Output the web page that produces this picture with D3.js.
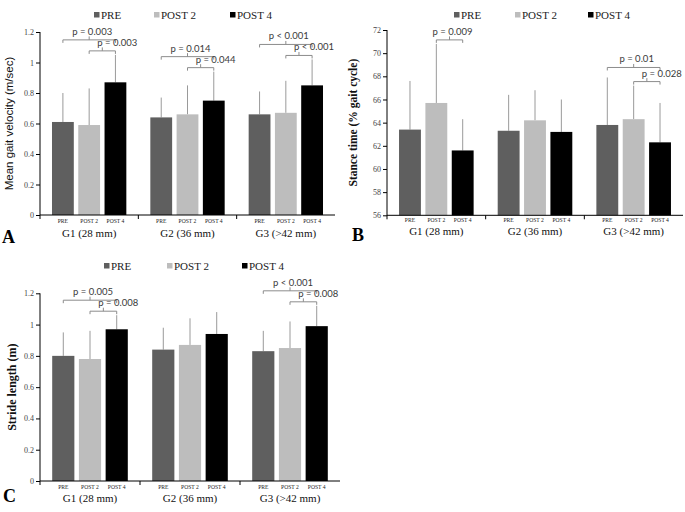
<!DOCTYPE html>
<html>
<head>
<meta charset="utf-8">
<script src="https://cdn.jsdelivr.net/npm/d3@7"></script>
<style>
  html, body { margin: 0; padding: 0; background: #fff; }
  svg { display: block; }
</style>
</head>
<body>
<svg id="chart" width="685" height="512"></svg>
<script>
// ---------- DATA ----------
const groups = ["G1 (28 mm)", "G2 (36 mm)", "G3 (>42 mm)"];
const seriesNames = ["PRE", "POST 2", "POST 4"];

// Panel A: mean gait velocity (m/sec) — rows = groups, cols = series
const velocityMean = [[0.61, 0.59, 0.87], [0.64, 0.66, 0.75], [0.66, 0.67, 0.85]];
const velocitySD   = [[0.19, 0.24, 0.18], [0.13, 0.19, 0.19], [0.15, 0.21, 0.17]];
const velocityTicks = [0, 0.2, 0.4, 0.6, 0.8, 1, 1.2];
const velocityP = [
  { group: 0, from: 0, to: 2, label: "p = 0.003" },
  { group: 0, from: 1, to: 2, label: "p = 0.003" },
  { group: 1, from: 0, to: 2, label: "p = 0.014" },
  { group: 1, from: 1, to: 2, label: "p = 0.044" },
  { group: 2, from: 0, to: 2, label: "p < 0.001" },
  { group: 2, from: 1, to: 2, label: "p < 0.001" }
];

// Panel B: stance time (% gait cycle)
const stanceMean = [[63.4, 65.7, 61.6], [63.3, 64.2, 63.2], [63.8, 64.3, 62.3]];
const stanceSD   = [[4.2, 5.1, 2.7], [3.1, 2.6, 2.8], [4.1, 2.9, 3.4]];
const stanceTicks = [56, 58, 60, 62, 64, 66, 68, 70, 72];
const stanceP = [
  { group: 0, from: 1, to: 2, label: "p = 0.009" },
  { group: 2, from: 0, to: 2, label: "p = 0.01" },
  { group: 2, from: 1, to: 2, label: "p = 0.028" }
];

// Panel C: stride length (m)
const strideMean = [[0.80, 0.78, 0.97], [0.84, 0.87, 0.94], [0.83, 0.85, 0.99]];
const strideSD   = [[0.15, 0.18, 0.09], [0.14, 0.17, 0.14], [0.13, 0.17, 0.13]];
const strideTicks = [0, 0.2, 0.4, 0.6, 0.8, 1, 1.2];
const strideP = [
  { group: 0, from: 0, to: 2, label: "p = 0.005" },
  { group: 0, from: 1, to: 2, label: "p = 0.008" },
  { group: 2, from: 0, to: 2, label: "p < 0.001" },
  { group: 2, from: 1, to: 2, label: "p = 0.008" }
];

// ---------- STYLE ----------
const colors = ["#5f5f5f", "#bdbdbd", "#000000"];
const serif = "'Liberation Serif', 'Times New Roman', serif";
const sans = "'Liberation Sans', Arial, sans-serif";
const pFont = "Lato, 'Open Sans', sans-serif";

const panels = [
  { letter: "A", title: "Mean gait velocity (m/sec)", titleFont: sans, titleWeight: "normal", titleSize: 11.5,
    mean: velocityMean, sd: velocitySD, ticks: velocityTicks, p: velocityP, fmt: d => String(d),
    x0: 40, x1: 335, yTop: 32, yBot: 215, titleX: 13, legendX: [94, 154, 230], legendY: 15,
    catY: 223, groupY: 237, letterX: 2, letterY: 243 },
  { letter: "B", title: "Stance time (% gait cycle)", titleFont: serif, titleWeight: "bold", titleSize: 11.5,
    mean: stanceMean, sd: stanceSD, ticks: stanceTicks, p: stanceP, fmt: d => String(d),
    x0: 387, x1: 683, yTop: 30, yBot: 215.3, titleX: 357, legendX: [454, 515, 588], legendY: 15,
    catY: 222, groupY: 235, letterX: 352, letterY: 241 },
  { letter: "C", title: "Stride length (m)", titleFont: serif, titleWeight: "bold", titleSize: 12,
    mean: strideMean, sd: strideSD, ticks: strideTicks, p: strideP, fmt: d => String(d),
    x0: 40, x1: 340, yTop: 293.3, yBot: 481, titleX: 16, legendX: [104, 167, 242], legendY: 266,
    catY: 489, groupY: 502, letterX: 3, letterY: 502 }
];

const svg = d3.select("#chart");

panels.forEach(P => {
  const g = svg.append("g");
  const dom = d3.extent(P.ticks);
  const y = d3.scaleLinear().domain(dom).range([P.yBot, P.yTop]);
  const xg = d3.scaleBand().domain(d3.range(groups.length)).range([P.x0, P.x1]).paddingInner(0).paddingOuter(0);
  const gw = xg.bandwidth();
  const xs = d3.scaleBand().domain(d3.range(seriesNames.length))
    .range([gw * 0.122, gw * 0.878]).paddingInner(0.17).paddingOuter(0);
  const bw = xs.bandwidth();
  const cx = (gi, si) => xg(gi) + xs(si) + bw / 2;

  // bars + error bars
  P.mean.forEach((row, gi) => {
    row.forEach((v, si) => {
      const top = v + P.sd[gi][si];
      g.append("line")
        .attr("x1", cx(gi, si)).attr("x2", cx(gi, si))
        .attr("y1", y(v)).attr("y2", y(top))
        .attr("stroke", "#9a9a9a").attr("stroke-width", 1);
      g.append("rect")
        .attr("x", xg(gi) + xs(si)).attr("y", y(v))
        .attr("width", bw).attr("height", y(dom[0]) - y(v))
        .attr("fill", colors[si]);
    });
  });

  // y axis
  const yAxis = d3.axisLeft(y).tickValues(P.ticks).tickFormat(P.fmt).tickSize(4).tickPadding(2);
  const ya = g.append("g").attr("transform", `translate(${P.x0},0)`).call(yAxis);
  ya.select(".domain").attr("stroke", "#000").attr("d", `M0,${P.yTop}V${P.yBot + 4}`);
  ya.selectAll(".tick line").attr("stroke", "#000");
  ya.selectAll(".tick text").attr("font-family", serif).attr("font-size", 8).attr("fill", "#444");

  // x axis
  g.append("line").attr("x1", P.x0).attr("x2", P.x1).attr("y1", P.yBot).attr("y2", P.yBot)
    .attr("stroke", "#000").attr("stroke-width", 1);
  d3.range(1, groups.length).forEach(i => {
    g.append("line").attr("x1", xg(i)).attr("x2", xg(i))
      .attr("y1", P.yBot).attr("y2", P.yBot + 4).attr("stroke", "#000");
  });

  // category labels
  P.mean.forEach((row, gi) => {
    seriesNames.forEach((s, si) => {
      g.append("text").attr("x", cx(gi, si)).attr("y", P.catY)
        .attr("text-anchor", "middle").attr("font-family", serif)
        .attr("font-size", 5.6).attr("fill", "#222").text(s);
    });
    g.append("text").attr("x", xg(gi) + gw / 2).attr("y", P.groupY)
      .attr("text-anchor", "middle").attr("font-family", serif)
      .attr("font-size", 11).attr("fill", "#111").text(groups[gi]);
  });

  // legend
  seriesNames.forEach((s, si) => {
    g.append("rect").attr("x", P.legendX[si]).attr("y", P.legendY - 3)
      .attr("width", 5.5).attr("height", 5.5).attr("fill", colors[si]);
    g.append("text").attr("x", P.legendX[si] + 7).attr("y", P.legendY + 3.5)
      .attr("font-family", serif).attr("font-size", 11).attr("fill", "#222").text(s);
  });

  // y title
  g.append("text")
    .attr("transform", `translate(${P.titleX},${(P.yTop + P.yBot) / 2}) rotate(-90)`)
    .attr("text-anchor", "middle").attr("font-family", P.titleFont)
    .attr("font-weight", P.titleWeight).attr("font-size", P.titleSize).attr("fill", "#111")
    .text(P.title);

  // panel letter
  g.append("text").attr("x", P.letterX).attr("y", P.letterY)
    .attr("font-family", serif).attr("font-weight", "bold").attr("font-size", 18)
    .attr("fill", "#000").text(P.letter);

  // significance brackets
  const innerY = {};
  P.p.filter(a => a.from === 1).forEach(a => {
    const tops = d3.range(a.from, a.to + 1).map(si => y(P.mean[a.group][si] + P.sd[a.group][si]));
    innerY[a.group] = d3.min(tops) - 4;
  });
  P.p.forEach(a => {
    const tops = d3.range(a.from, a.to + 1).map(si => y(P.mean[a.group][si] + P.sd[a.group][si]));
    let by;
    if (a.from === 1) by = innerY[a.group];
    else by = innerY[a.group] !== undefined ? Math.min(innerY[a.group] - 11, d3.min(tops) - 10) : d3.min(tops) - 4;
    const xa = cx(a.group, a.from), xb = cx(a.group, a.to), xm = (xa + xb) / 2;
    g.append("path")
      .attr("d", `M${xa},${by + 3}V${by}H${xb}V${by + 3}M${xm},${by}V${by - 3.5}`)
      .attr("fill", "none").attr("stroke", "#8c8c8c").attr("stroke-width", 1);
    const isInner = a.from === 1 && P.p.some(b => b.group === a.group && b.from === 0);
    g.append("text")
      .attr("x", isInner ? xm - 5 : xm + 3).attr("y", by - 5)
      .attr("text-anchor", isInner ? "start" : "middle")
      .attr("font-family", pFont).attr("font-size", 9.5).attr("fill", "#3a3a3a")
      .text(a.label);
  });
});
</script>
</body>
</html>
